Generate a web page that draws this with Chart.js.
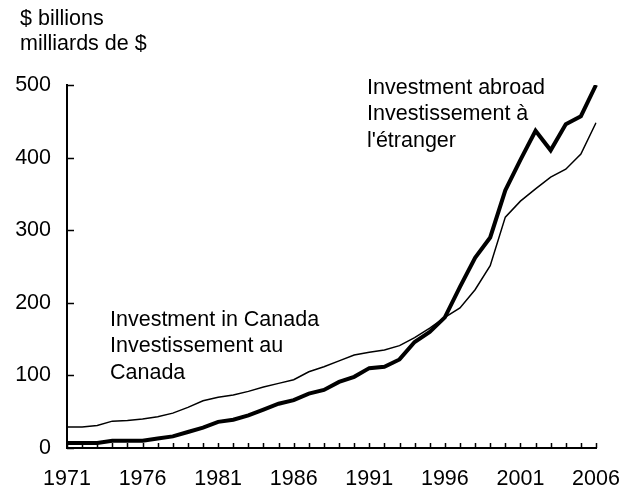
<!DOCTYPE html>
<html>
<head>
<meta charset="utf-8">
<script src="https://cdn.jsdelivr.net/npm/chart.js@4/dist/chart.umd.min.js"></script>
<style>
  html, body { margin: 0; padding: 0; background: #fff; }
  #wrap { width: 635px; height: 489px; }
</style>
</head>
<body>
<div id="wrap"><canvas id="invest-chart" width="635" height="489"></canvas></div>
<script>
// years 1971 - 2006
var years = [];
for (var y = 1971; y <= 2006; y++) years.push(String(y));

// $ billions
var investAbroad = [7, 7, 7, 10, 10, 10, 13, 16, 22, 28, 36, 39, 45, 53, 61, 66, 75, 80, 91, 98,
                    110, 112, 122, 146, 160, 180, 222, 262, 290, 355, 397, 437, 410, 446, 457, 500];
var investCanada = [29, 29, 31, 37, 38, 40, 43, 48, 56, 65, 70, 73, 78, 84, 89, 94, 105, 112, 120, 128,
                    132, 135, 141, 152, 165, 180, 193, 218, 251, 318, 340, 357, 373, 384, 405, 448];
var yTicks = [0, 100, 200, 300, 400, 500];

var unitLabels = ["$ billions", "milliards de $"];
var abroadLabels = ["Investment abroad", "Investissement à", "l'étranger"];
var canadaLabels = ["Investment in Canada", "Investissement au", "Canada"];

var FONT = '"Liberation Sans", Arial, Helvetica, sans-serif';
var FSIZE = 21.5;

// inward tick marks + the text notes
var extrasPlugin = {
    id: 'extras',
    afterDraw: function (chart) {
        var ctx = chart.ctx;
        var xs = chart.scales.x, ys = chart.scales.y;
        ctx.save();
        ctx.strokeStyle = '#000';
        ctx.lineWidth = 1.5;
        ctx.beginPath();
        for (var i = 0; i < xs.ticks.length; i++) {
            var px = Math.round(xs.getPixelForTick(i)) + 0.5;
            ctx.moveTo(px, ys.bottom);
            ctx.lineTo(px, ys.bottom - 5);
        }
        for (var j = 0; j < ys.ticks.length; j++) {
            var py = Math.round(ys.getPixelForTick(j)) + 0.5;
            ctx.moveTo(xs.left, py);
            ctx.lineTo(xs.left + 7, py);
        }
        ctx.stroke();

        ctx.fillStyle = '#000';
        ctx.font = FSIZE + 'px ' + FONT;
        ctx.textAlign = 'left';
        ctx.textBaseline = 'middle';
        unitLabels.forEach(function (t, k) { ctx.fillText(t, 20, 19 + k * 25.5); });
        abroadLabels.forEach(function (t, k) { ctx.fillText(t, 367, 88 + k * 26.5); });
        canadaLabels.forEach(function (t, k) { ctx.fillText(t, 110, 320 + k * 26.5); });
        ctx.restore();
    }
};

var ctx = document.getElementById('invest-chart').getContext('2d');
var investChart = new Chart(ctx, {
    type: 'line',
    data: {
        labels: years,
        datasets: [
            {
                label: 'Investment abroad',
                data: investAbroad,
                borderColor: '#000',
                borderWidth: 4,
                pointRadius: 0,
                tension: 0,
                fill: false
            },
            {
                label: 'Investment in Canada',
                data: investCanada,
                borderColor: '#000',
                borderWidth: 1.5,
                pointRadius: 0,
                tension: 0,
                fill: false
            }
        ]
    },
    options: {
        responsive: false,
        animation: false,
        layout: { padding: { top: 85, right: 39, left: 0, bottom: 0 } },
        plugins: {
            legend: { display: false },
            tooltip: { enabled: false }
        },
        scales: {
            x: {
                type: 'category',
                offset: false,
                grid: { display: true, drawOnChartArea: false, drawTicks: false },
                border: { display: true, color: '#000', width: 2 },
                ticks: {
                    autoSkip: false,
                    maxRotation: 0,
                    padding: 18,
                    color: '#000',
                    font: { family: FONT, size: FSIZE },
                    callback: function (val, idx) {
                        return idx % 5 === 0 ? years[idx] : '';
                    }
                },
                afterFit: function (scale) {
                    scale.height = 41;
                    scale.paddingLeft = 0;
                    scale.paddingRight = 0;
                }
            },
            y: {
                min: 0,
                max: 500,
                grid: { display: true, drawOnChartArea: false, drawTicks: false },
                border: { display: true, color: '#000', width: 2 },
                afterBuildTicks: function (scale) {
                    scale.ticks = yTicks.map(function (v) { return { value: v }; });
                },
                ticks: {
                    padding: 16,
                    color: '#000',
                    font: { family: FONT, size: FSIZE }
                },
                afterFit: function (scale) { scale.width = 67; }
            }
        }
    },
    plugins: [extrasPlugin]
});
</script>
</body>
</html>
